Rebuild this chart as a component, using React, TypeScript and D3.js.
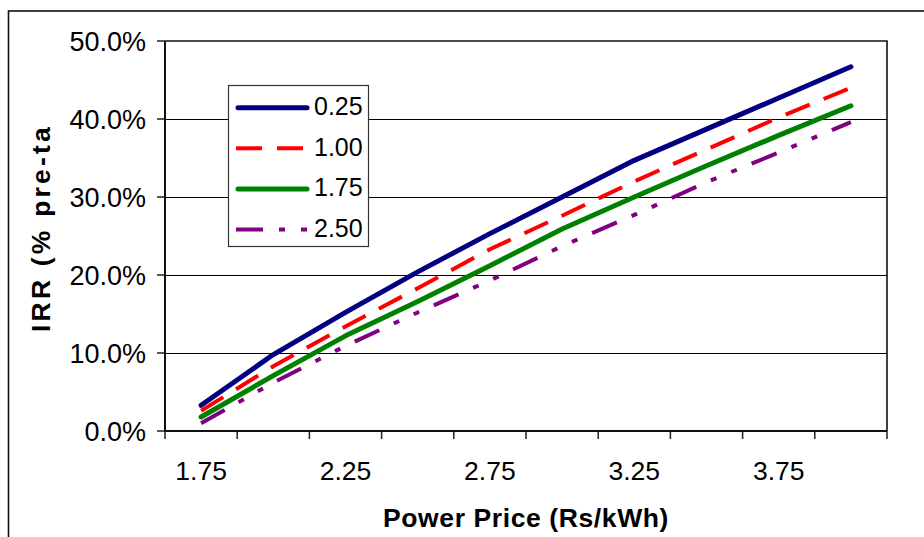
import { useEffect, useRef } from 'react'
import * as d3 from 'd3'

// Power price categories (Rs/kWh)
const prices = ['1.75', '2.00', '2.25', '2.50', '2.75', '3.00', '3.25', '3.50', '3.75', '4.00']
const tickLabels = ['1.75', '2.25', '2.75', '3.25', '3.75']
const yTicks = [0, 10, 20, 30, 40, 50]

// IRR (% pre-tax) for each series
const irr025 = [3.3, 9.8, 15.2, 20.4, 25.3, 30.0, 34.7, 38.7, 42.7, 46.7]
const irr100 = [2.6, 8.3, 13.4, 18.3, 23.3, 27.6, 32.0, 36.1, 40.2, 44.0]
const irr175 = [1.8, 7.1, 12.2, 16.6, 21.2, 25.9, 30.0, 34.0, 37.9, 41.7]
const irr250 = [1.0, 6.2, 10.9, 15.2, 19.3, 23.7, 27.7, 31.9, 35.7, 39.6]

const seriesNames = ['0.25', '1.00', '1.75', '2.50']

const FONT = '"Liberation Sans", Arial, sans-serif'

export default function App() {
  const svgRef = useRef<SVGSVGElement>(null)

  useEffect(() => {
    if (!svgRef.current) return
    const svg = d3.select(svgRef.current)
    svg.selectAll('*').remove()

    const width = 924
    const height = 537
    const plot = { left: 165, right: 887, top: 41, bottom: 431 }

    const styles = [
      { color: '#000080', width: 5, dash: null, cap: 'round' },
      { color: '#ff0000', width: 4, dash: '26 15', cap: 'butt' },
      { color: '#008000', width: 5, dash: null, cap: 'round' },
      { color: '#800080', width: 4, dash: '27 16 6 16 6 16', cap: 'butt' }
    ]
    const series = [irr025, irr100, irr175, irr250]

    const xScale = d3.scaleBand<string>()
      .domain(prices)
      .range([plot.left, plot.right])
      .padding(0)

    const yScale = d3.scaleLinear()
      .domain([0, 50])
      .range([plot.bottom, plot.top])

    svg.append('rect')
      .attr('width', width)
      .attr('height', height)
      .attr('fill', '#fff')

    // outer chart frame
    svg.append('rect')
      .attr('x', 8.5)
      .attr('y', 11)
      .attr('width', width + 20)
      .attr('height', height + 20)
      .attr('fill', 'none')
      .attr('stroke', '#111')
      .attr('stroke-width', 1.6)

    // gridlines
    svg.append('g')
      .selectAll('line')
      .data(yTicks.filter(t => t > 0 && t < 50))
      .enter().append('line')
      .attr('x1', plot.left)
      .attr('x2', plot.right)
      .attr('y1', d => Math.round(yScale(d)) + 0.5)
      .attr('y2', d => Math.round(yScale(d)) + 0.5)
      .attr('stroke', '#000')
      .attr('stroke-width', 1.2)

    // plot area border (top, right)
    svg.append('path')
      .attr('d', `M${plot.left},${plot.top}H${plot.right}V${plot.bottom}`)
      .attr('fill', 'none')
      .attr('stroke', '#111')
      .attr('stroke-width', 1.6)

    // category boundary ticks
    const bounds = prices.map(p => xScale(p) || 0).concat([plot.right])
    svg.append('g')
      .selectAll('line')
      .data(bounds)
      .enter().append('line')
      .attr('x1', d => d)
      .attr('x2', d => d)
      .attr('y1', plot.bottom)
      .attr('y2', plot.bottom + 8)
      .attr('stroke', '#222')
      .attr('stroke-width', 1.5)

    svg.append('g')
      .selectAll('line')
      .data(yTicks)
      .enter().append('line')
      .attr('x1', plot.left - 8)
      .attr('x2', plot.left)
      .attr('y1', d => yScale(d))
      .attr('y2', d => yScale(d))
      .attr('stroke', '#222')
      .attr('stroke-width', 1.5)

    svg.append('line')
      .attr('x1', plot.left).attr('x2', plot.left)
      .attr('y1', plot.top).attr('y2', plot.bottom + 1)
      .attr('stroke', '#111')
      .attr('stroke-width', 2)

    svg.append('line')
      .attr('x1', plot.left - 1).attr('x2', plot.right)
      .attr('y1', plot.bottom).attr('y2', plot.bottom)
      .attr('stroke', '#111')
      .attr('stroke-width', 2)

    // tick labels
    svg.append('g')
      .selectAll('text')
      .data(yTicks)
      .enter().append('text')
      .attr('x', 146)
      .attr('y', d => yScale(d) + 9.5)
      .attr('text-anchor', 'end')
      .style('font-family', FONT)
      .style('font-size', '27px')
      .style('fill', '#000')
      .text(d => `${d.toFixed(1)}%`)

    svg.append('g')
      .selectAll('text')
      .data(tickLabels)
      .enter().append('text')
      .attr('x', d => (xScale(d) || 0) + xScale.bandwidth() / 2)
      .attr('y', 480)
      .attr('text-anchor', 'middle')
      .style('font-family', FONT)
      .style('font-size', '26.5px')
      .style('fill', '#000')
      .text(d => d)

    // axis titles
    svg.append('text')
      .attr('x', (plot.left + plot.right) / 2)
      .attr('y', 527)
      .attr('text-anchor', 'middle')
      .style('font-family', FONT)
      .style('font-size', '26.5px')
      .style('font-weight', 'bold')
      .style('letter-spacing', '0.6px')
      .style('fill', '#000')
      .text('Power Price (Rs/kWh)')

    svg.append('text')
      .attr('transform', 'translate(50,332) rotate(-90)')
      .attr('text-anchor', 'start')
      .style('font-family', FONT)
      .style('font-size', '26.5px')
      .style('font-weight', 'bold')
      .style('letter-spacing', '3.2px')
      .style('fill', '#000')
      .text('IRR (% pre-ta')

    // series lines
    const line = d3.line<number>()
      .x((d, i) => (xScale(prices[i]) || 0) + xScale.bandwidth() / 2)
      .y(d => yScale(d))

    series.forEach((values, i) => {
      const s = styles[i]
      svg.append('path')
        .datum(values)
        .attr('fill', 'none')
        .attr('stroke', s.color)
        .attr('stroke-width', s.width)
        .attr('stroke-linecap', s.cap)
        .attr('stroke-linejoin', 'round')
        .attr('stroke-dasharray', s.dash)
        .attr('d', line)
    })

    // legend
    const legend = svg.append('g')
    legend.append('rect')
      .attr('x', 228.5)
      .attr('y', 85.5)
      .attr('width', 140)
      .attr('height', 161)
      .attr('fill', '#fff')
      .attr('stroke', '#333')
      .attr('stroke-width', 1.2)

    seriesNames.forEach((name, i) => {
      const s = styles[i]
      const y = 107.7 + i * 40.6
      legend.append('line')
        .attr('x1', s.cap === 'round' ? 238 : 236)
        .attr('x2', s.cap === 'round' ? 307 : 309)
        .attr('y1', y)
        .attr('y2', y)
        .attr('stroke', s.color)
        .attr('stroke-width', s.width)
        .attr('stroke-linecap', s.cap)
        .attr('stroke-dasharray', s.dash)
      legend.append('text')
        .attr('x', 314)
        .attr('y', y + 7.5)
        .style('font-family', FONT)
        .style('font-size', '25px')
        .style('fill', '#000')
        .text(name)
    })
  }, [])

  return (
    <svg
      ref={svgRef}
      width={924}
      height={537}
      style={{ position: 'absolute', left: 0, top: 0 }}
    />
  )
}
